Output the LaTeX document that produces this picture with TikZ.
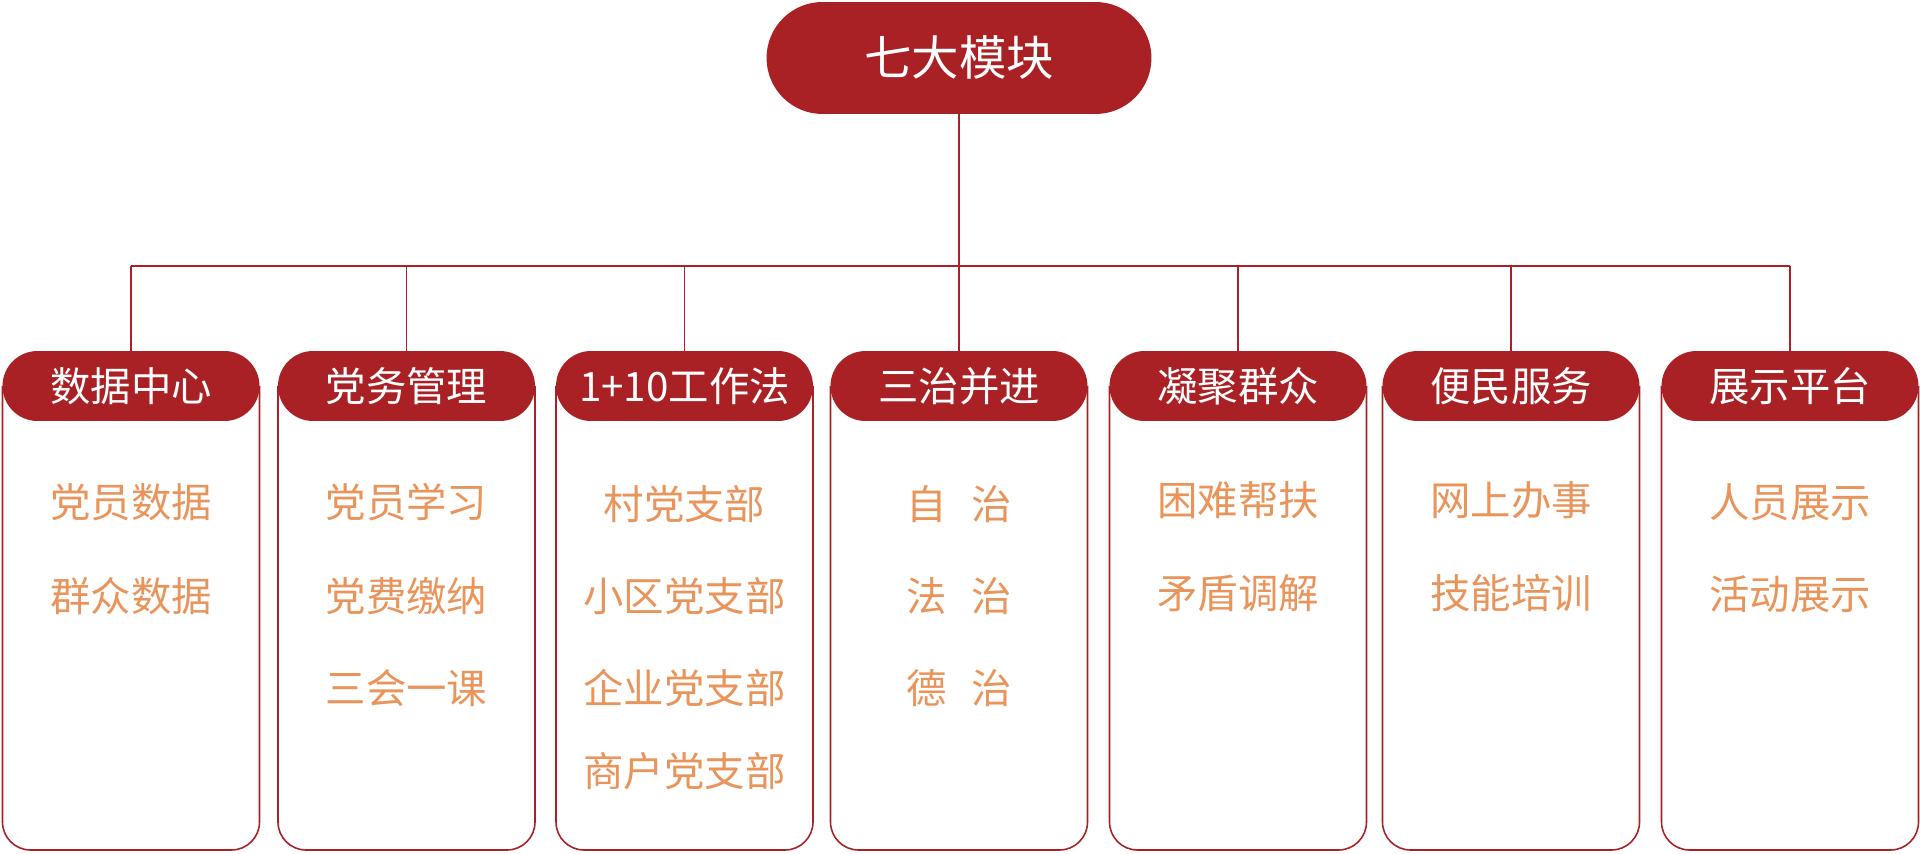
\documentclass[tikz,border=0pt]{standalone}
\usepackage{fontspec}
\setmainfont{Noto Sans CJK SC}
\usetikzlibrary{shapes.misc}

\definecolor{partyred}{HTML}{A92125}
\definecolor{itemorange}{HTML}{E9945A}

\tikzset{
    link/.style={draw=partyred, line width=0.9pt},
    header/.style={rounded rectangle, fill=partyred, text=white, inner sep=0pt,
        minimum width=5.14cm, minimum height=1.4cm, font=\fontsize{23}{27}\selectfont},
    item/.style={text=itemorange, inner sep=0pt, font=\fontsize{23}{27}\selectfont},
}

\begin{document}
\begin{tikzpicture}[x=0.02cm,y=-0.02cm]
    \useasboundingbox (0,0) rectangle (1920,854);

    \node[header, minimum width=7.7cm, minimum height=2.24cm, font=\fontsize{27}{32}\selectfont] (top) at (959,58) {七大模块};
    \coordinate (bus) at (959,266);
    \draw[link] (top.south) -- (bus);

    \foreach \cx/\name [count=\i] in {131/数据中心, 406.5/党务管理, 684.5/1+10工作法, 959/三治并进, 1238/凝聚群众, 1511/便民服务, 1790/展示平台}{
        \coordinate (m\i) at (\cx,850);
        \draw[link, rounded corners=0.56cm] (\cx-128.5,386) -- (\cx-128.5,850) -- (\cx+128.5,850) -- (\cx+128.5,386);
        \node[header] (h\i) at (\cx,386) {\name};
    }

    \draw[link] (h1.north |- bus) -- (h7.north |- bus);
    \foreach \i in {1,...,7}{
        \draw[link] (h\i.north |- bus) -- (h\i.north);
    }

    \node[item] (d1) at (131,502) {党员数据};
    \node[item] (d2) at (131,596) {群众数据};

    \node[item] (p1) at (406.5,502) {党员学习};
    \node[item] (p2) at (406.5,596) {党费缴纳};
    \node[item] (p3) at (406.5,688) {三会一课};

    \node[item] (w1) at (684.5,504) {村党支部};
    \node[item] (w2) at (684.5,596) {小区党支部};
    \node[item] (w3) at (684.5,688) {企业党支部};
    \node[item] (w4) at (684.5,771) {商户党支部};

    \node[item] (g1) at (959,504) {自\hspace{0.6em}治};
    \node[item] (g2) at (959,596) {法\hspace{0.6em}治};
    \node[item] (g3) at (959,688) {德\hspace{0.6em}治};

    \node[item] (q1) at (1238,500) {困难帮扶};
    \node[item] (q2) at (1238,593) {矛盾调解};

    \node[item] (s1) at (1511,500) {网上办事};
    \node[item] (s2) at (1511,593) {技能培训};

    \node[item] (z1) at (1790,502) {人员展示};
    \node[item] (z2) at (1790,594) {活动展示};

\end{tikzpicture}
\end{document}
